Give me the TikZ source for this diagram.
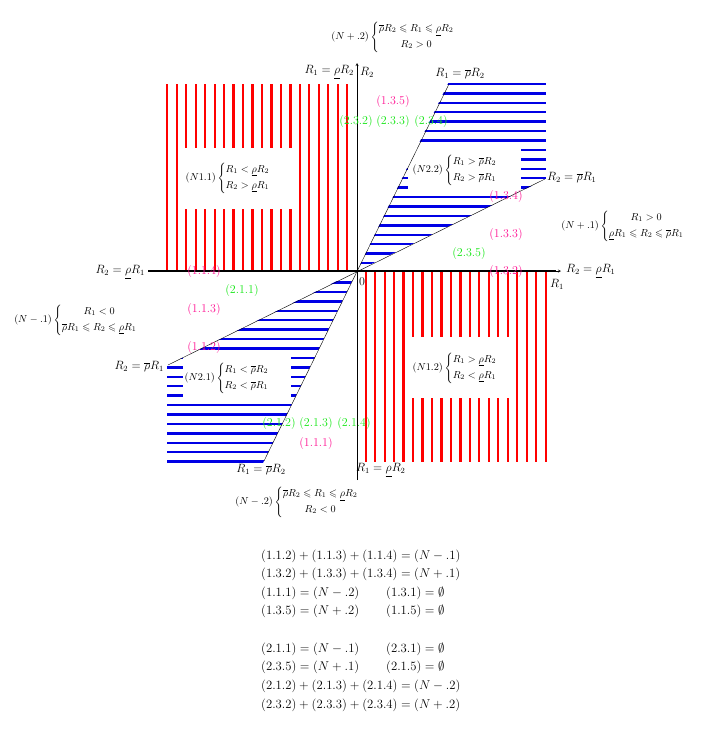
\RequirePackage{fix-cm}
\documentclass[tikz,border=0pt]{standalone}
\usepackage{amsmath,amssymb}
\usepackage{tikz}

\definecolor{lblpink}{RGB}{255,20,147}
\definecolor{lblgreen}{RGB}{20,230,20}
\newcommand{\rlo}{\underline{\rho}}
\newcommand{\rhi}{\overline{\rho}}
% conditions: centred lines / left lines
\newcommand{\condc}[3]{$(#1)\left\{\begin{array}{@{}c@{}}#2\\[4pt]#3\end{array}\right.$}
\newcommand{\condl}[3]{$(#1)\left\{\begin{array}{@{}l@{}}#2\\[4pt]#3\end{array}\right.$}

\begin{document}
\begin{tikzpicture}[x=1pt, y=-1pt, every node/.style={font=\fontsize{12}{14}\selectfont, inner sep=1pt},
	cond/.style={font=\fontsize{10.2}{12}\selectfont},
	pinklbl/.style={lblpink}, greenlbl/.style={lblgreen},
	redhatch/.style={red, line width=2.2pt},
	bluehatch/.style={blue!90!black, line width=2.4pt},
	eqline/.style={anchor=west, font=\fontsize{12.7}{15}\selectfont}]
	\useasboundingbox (0,0) rectangle (708,734);
	
	% red zones
	\foreach \i in {0,...,19} {
		\draw[redhatch] ({167.3+9.47*\i},84) -- ({167.3+9.47*\i},271);
		\draw[redhatch] ({365.7+9.47*\i},271) -- ({365.7+9.47*\i},462);
	}
	% blue zones
	\begin{scope}
		\clip (357,271) -- (448.5,82.5) -- (546,82.5) -- (546,179) -- cycle;
		\foreach \i in {0,...,19} \draw[bluehatch] (357,{84+9.42*\i}) -- (546,{84+9.42*\i});
	\end{scope}
	\begin{scope}
		\clip (357,271) -- (167,365.5) -- (167,463) -- (263,463) -- cycle;
		\foreach \i in {0,...,19} \draw[bluehatch] (167,{282.5+9.43*\i}) -- (357,{282.5+9.43*\i});
	\end{scope}
	
	% blank boxes for the zone conditions
	\fill[white] (181,148) rectangle (295,209);
	\fill[white] (408,144) rectangle (521,193);
	\fill[white] (183,352) rectangle (291,401);
	\fill[white] (408,337) rectangle (513,398);
	
	% axes and lines
	\coordinate (O) at (357,271);
	\coordinate (a1) at (449,84);
	\coordinate (a2) at (264,461);
	\coordinate (b1) at (545,179);
	\coordinate (b2) at (168,365);
	\draw (a2) -- (a1);
	\draw (b2) -- (b1);
	\draw[->, >=stealth] (357,480) -- (357,63);
	\draw[line width=1.6pt] (148,271) -- (556,271);
	\draw[->, >=stealth] (550,271) -- (561,271);
	
	\node[anchor=east] (top1) at (355,72) {$R_1=\rlo R_2$};
	\node[anchor=west] (yax) at (359,72) {$R_2$};
	\node (top2) at (460,74) {$R_1=\rhi R_2$};
	\node[anchor=west] (rt1) at (546,178) {$R_2=\rhi R_1$};
	\node[anchor=west] (rt2) at (565,271) {$R_2=\rlo R_1$};
	\node (xax) at (557,284) {$R_1$};
	\node[anchor=east] (lf1) at (146,272) {$R_2=\rlo R_1$};
	\node[anchor=east] (lf2) at (165,367) {$R_2=\rhi R_1$};
	\node (bt1) at (261,470) {$R_1=\rhi R_2$};
	\node[anchor=west] (bt2) at (355,470) {$R_1=\rlo R_2$};
	\node (zero) at (362,282) {$0$};
	
	% conditions
	\node[cond] (npd) at (393,37) {\condc{N+.2}{\rhi R_2\leqslant R_1\leqslant\rlo R_2}{R_2>0}};
	\node[cond] (npu) at (623,226) {\condc{N+.1}{R_1>0}{\rlo R_1\leqslant R_2\leqslant\rhi R_1}};
	\node[cond] (nmu) at (76,320) {\condc{N-.1}{R_1<0}{\rhi R_1\leqslant R_2\leqslant\rlo R_1}};
	\node[cond] (nmd) at (297,502) {\condc{N-.2}{\rhi R_2\leqslant R_1\leqslant\rlo R_2}{R_2<0}};
	\node[cond] (n11) at (228,178) {\condl{N1.1}{R_1<\rlo R_2}{R_2>\rlo R_1}};
	\node[cond] (n22) at (455,170) {\condl{N2.2}{R_1>\rhi R_2}{R_2>\rhi R_1}};
	\node[cond] (n21) at (227,378) {\condl{N2.1}{R_1<\rhi R_2}{R_2<\rhi R_1}};
	\node[cond] (n12) at (455,368) {\condl{N1.2}{R_1>\rlo R_2}{R_2<\rlo R_1}};
	
	% zone labels
	\node[pinklbl] (l135) at (393,102) {(1.3.5)};
	\node[pinklbl] (l134) at (506,197) {(1.3.4)};
	\node[pinklbl] (l133) at (506,235) {(1.3.3)};
	\node[pinklbl] (l132) at (506,272) {(1.3.2)};
	\node[pinklbl] (l114) at (204,272) {(1.1.4)};
	\node[pinklbl] (l113) at (204,310) {(1.1.3)};
	\node[pinklbl] (l112) at (204,348) {(1.1.2)};
	\node[pinklbl] (l111) at (316,443) {(1.1.1)};
	\node[greenlbl] (l232) at (356,122) {(2.3.2)};
	\node[greenlbl] (l233) at (393,122) {(2.3.3)};
	\node[greenlbl] (l234) at (431,122) {(2.3.4)};
	\node[greenlbl] (l235) at (469,254) {(2.3.5)};
	\node[greenlbl] (l211) at (242,291) {(2.1.1)};
	\node[greenlbl] (l212) at (279,423) {(2.1.2)};
	\node[greenlbl] (l213) at (316,423) {(2.1.3)};
	\node[greenlbl] (l214) at (354,423) {(2.1.4)};
	
	% sums
	\node[eqline] (e1) at (260,556) {$(1.1.2)+(1.1.3)+(1.1.4)=(N-.1)$};
	\node[eqline] (e2) at (260,574) {$(1.3.2)+(1.3.3)+(1.3.4)=(N+.1)$};
	\node[eqline] (e3) at (260,593) {$(1.1.1)=(N-.2)$};
	\node[eqline] (e3b) at (385,593) {$(1.3.1)=\emptyset$};
	\node[eqline] (e4) at (260,611) {$(1.3.5)=(N+.2)$};
	\node[eqline] (e4b) at (385,611) {$(1.1.5)=\emptyset$};
	\node[eqline] (e5) at (260,649) {$(2.1.1)=(N-.1)$};
	\node[eqline] (e5b) at (385,649) {$(2.3.1)=\emptyset$};
	\node[eqline] (e6) at (260,667) {$(2.3.5)=(N+.1)$};
	\node[eqline] (e6b) at (385,667) {$(2.1.5)=\emptyset$};
	\node[eqline] (e7) at (260,686) {$(2.1.2)+(2.1.3)+(2.1.4)=(N-.2)$};
	\node[eqline] (e8) at (260,705) {$(2.3.2)+(2.3.3)+(2.3.4)=(N+.2)$};
\end{tikzpicture}
\end{document}
